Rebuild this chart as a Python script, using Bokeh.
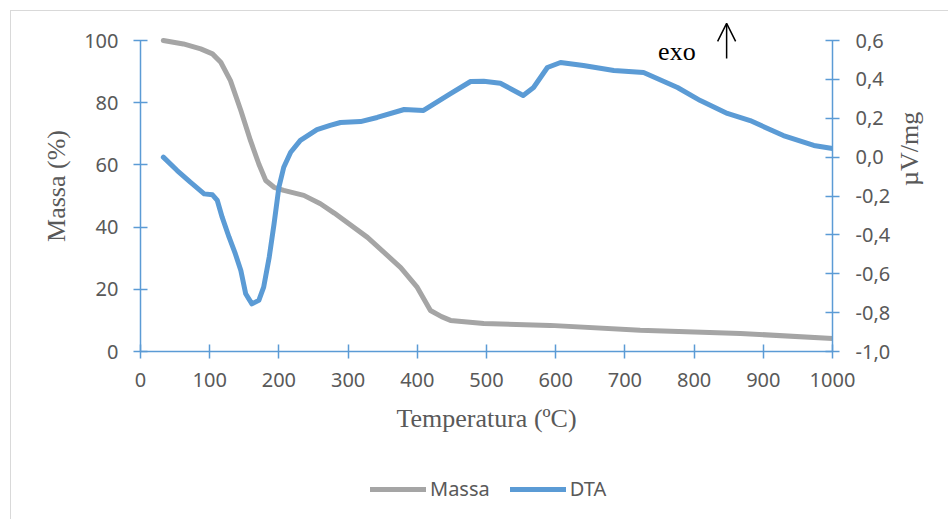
import math
from bokeh.plotting import figure
from bokeh.layouts import column
from bokeh.models import (Range1d, LinearAxis, FixedTicker, CustomJSTickFormatter,
                          Legend, LegendItem, Label, Arrow, OpenHead)
from bokeh.embed import file_html
from bokeh.resources import INLINE

# ---- data ----
mass_temp = [33, 62, 87, 104, 116, 130, 145, 159, 171, 181, 193, 207, 236, 260, 280, 328,
             376, 400, 419, 435, 448, 496, 592, 722, 867, 1000]
mass_pct = [100, 98.9, 97.3, 95.7, 93, 87.1, 77.5, 67.8, 60.3, 55, 52.8, 51.8, 50.2, 47.5,
            44.5, 36.7, 27, 20.6, 13.2, 11.2, 10, 9, 8.4, 6.8, 5.8, 4.2]

dta_temp = [33, 53, 72, 92, 104, 111, 118, 128, 137, 145, 152, 161, 171, 178, 186, 193,
            200, 207, 217, 231, 255, 274, 289, 318, 342, 381, 409, 448, 477, 496, 520, 553,
            568, 588, 607, 640, 684, 727, 776, 809, 848, 881, 929, 973, 1000]
dta_val = [0.0, -0.069, -0.129, -0.189, -0.194, -0.223, -0.309, -0.412, -0.497, -0.583,
           -0.703, -0.755, -0.737, -0.669, -0.515, -0.343, -0.155, -0.052, 0.025, 0.086,
           0.141, 0.163, 0.178, 0.183, 0.204, 0.245, 0.24, 0.327, 0.389, 0.39, 0.38, 0.317,
           0.358, 0.461, 0.487, 0.471, 0.446, 0.435, 0.358, 0.291, 0.225, 0.188, 0.111, 0.06,
           0.044]

x_ticks = [0, 100, 200, 300, 400, 500, 600, 700, 800, 900, 1000]
left_ticks = [0, 20, 40, 60, 80, 100]
right_ticks = [-1.0, -0.8, -0.6, -0.4, -0.2, 0.0, 0.2, 0.4, 0.6]
series_names = ["Massa", "DTA"]

GRAY = "#A5A5A5"
BLUE = "#5B9BD5"
TXT = "#595959"
SANS = "Noto Sans"
SERIF = "Liberation Serif"

# frame is 331 px tall; the axes span the lower 311 px of it (room above for the exo arrow)
top_left = 100 * 331 / 311
top_right = -1.0 + 1.6 * 331 / 311

p = figure(width=938, height=440, output_backend="svg", toolbar_location=None,
           x_range=Range1d(0, 1000), y_range=Range1d(0, top_left),
           min_border_left=129, min_border_right=117, min_border_top=9,
           min_border_bottom=100, margin=(10, 0, 0, 10),
           styles={"border-left": "1px solid #D9D9D9", "border-top": "1px solid #D9D9D9"})
p.extra_y_ranges = {"dta": Range1d(-1.0, top_right)}
p.outline_line_color = None
p.xgrid.visible = False
p.ygrid.visible = False
p.background_fill_color = "white"
p.border_fill_color = "white"

line_kw = dict(line_width=5, line_join="round", line_cap="round")
p.line(mass_temp, mass_pct, line_color=GRAY, **line_kw)
p.line(dta_temp, dta_val, line_color=BLUE, y_range_name="dta", **line_kw)

right_axis = LinearAxis(y_range_name="dta")
p.add_layout(right_axis, "right")

def style_axis(ax):
    ax.axis_line_color = BLUE
    ax.axis_line_width = 1.5
    ax.major_tick_line_color = BLUE
    ax.major_tick_line_width = 1.5
    ax.major_tick_in = 7
    ax.major_tick_out = 7
    ax.minor_tick_line_color = None
    ax.major_label_text_font = SANS
    ax.major_label_text_font_size = "20px"
    ax.major_label_text_color = TXT
    ax.axis_label_text_font = SERIF
    ax.axis_label_text_font_size = "26px"
    ax.axis_label_text_font_style = "normal"
    ax.axis_label_text_color = TXT

xa = p.xaxis[0]
style_axis(xa)
xa.ticker = FixedTicker(ticks=x_ticks)
xa.axis_label = "Temperatura (ºC)"
xa.major_label_standoff = 14
xa.axis_label_standoff = 14

ya = p.yaxis[0]
style_axis(ya)
ya.ticker = FixedTicker(ticks=left_ticks)
ya.bounds = (0, 100)
ya.axis_label = "Massa (%)"
ya.major_label_standoff = 15
ya.axis_label_standoff = 10

style_axis(right_axis)
right_axis.ticker = FixedTicker(ticks=right_ticks)
right_axis.bounds = (-1.0, 0.6)
right_axis.formatter = CustomJSTickFormatter(code="return tick.toFixed(1).replace('.', ',');")
right_axis.axis_label = "µV/mg"
right_axis.major_label_standoff = 16
right_axis.axis_label_standoff = 16
right_axis.axis_label_orientation = math.pi / 2

p.add_layout(Label(x=748, y=96.6, text="exo", text_font=SERIF, text_font_size="26px",
                   text_color="black", text_baseline="alphabetic", text_align="left"))
p.add_layout(Arrow(x_start=847, y_start=94.2, x_end=847, y_end=105.5,
                   line_color="black", line_width=1.5,
                   end=OpenHead(size=18, line_color="black", line_width=1.5)))

# legend strip below the chart (its frame is aligned with the chart frame by the column)
pl = figure(width=938, height=69, output_backend="svg", toolbar_location=None,
            x_range=Range1d(0, 1), y_range=Range1d(0, 1),
            x_axis_location=None, y_axis_location=None,
            min_border=0, margin=(0, 0, 0, 10),
            styles={"border-left": "1px solid #D9D9D9"})
pl.outline_line_color = None
pl.xgrid.visible = False
pl.ygrid.visible = False
# swatch renderers hold a point outside the visible range so only the legend shows them
lm = pl.line([5, 6], [5, 6], line_color=GRAY, **line_kw)
ld = pl.line([5, 6], [5, 6], line_color=BLUE, **line_kw)
legend = Legend(items=[LegendItem(label=series_names[0], renderers=[lm]),
                       LegendItem(label=series_names[1], renderers=[ld])],
                orientation="horizontal", location=(230, 17),
                padding=0, margin=0, spacing=20, glyph_width=56, glyph_height=20,
                label_height=20, label_standoff=4,
                label_text_font=SANS, label_text_font_size="20px", label_text_color=TXT,
                border_line_color=None, background_fill_alpha=0)
pl.add_layout(legend)

layout = column(p, pl, spacing=0)
open("out.html", "w").write(file_html(layout, INLINE))
